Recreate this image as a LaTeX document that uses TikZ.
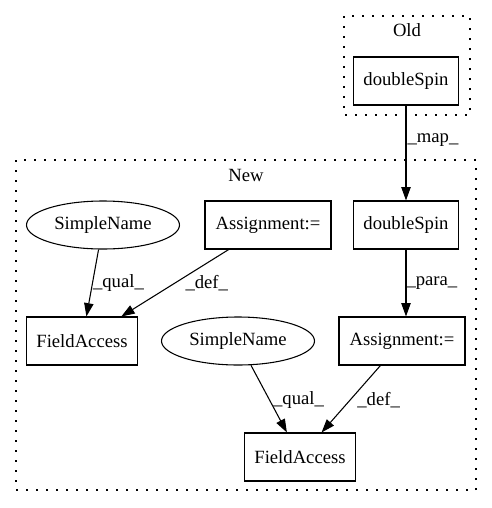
\documentclass[tikz,border=0pt]{standalone}
\usepackage{fontspec}
\setmainfont{Liberation Serif}
\usetikzlibrary{shapes.geometric,arrows.meta}
\begin{document}
\begin{tikzpicture}[x=0.75pt,y=-0.75pt,
  txt/.style={font=\fontsize{14}{16}\selectfont},
  box/.style={txt,draw,rectangle,line width=0.8pt,minimum height=36pt,inner sep=0pt},
  oval/.style={txt,draw,ellipse,line width=0.8pt,minimum width=114.75pt,minimum height=36pt,inner sep=0pt},
  arr/.style={-{Triangle[length=10pt,width=7pt]},line width=0.8pt},
  lbl/.style={txt,anchor=west,inner sep=0pt},
  cluster/.style={line width=0.8pt,dash pattern=on 1.5pt off 6pt}]
\useasboundingbox (0,0) rectangle (492,508);

\draw[cluster] (344,16) rectangle (470,115);
\node[txt] (oldTitle) at (407,30) {Old};
\node[box,minimum width=78.75pt] (spinOld) at (406,81) {doubleSpin};

\draw[cluster] (16,160) rectangle (476,490);
\node[txt] (newTitle) at (246,175) {New};
\node[oval] (nameA) at (103,225) {SimpleName};
\node[box,minimum width=94.5pt] (assignA) at (268,225) {Assignment:=};
\node[box,minimum width=78.75pt] (spinNew) at (406,225) {doubleSpin};
\node[box,minimum width=83.25pt] (fieldA) at (82,341) {FieldAccess};
\node[oval] (nameB) at (238,341) {SimpleName};
\node[box,minimum width=94.5pt] (assignB) at (402,341) {Assignment:=};
\node[box,minimum width=83.25pt] (fieldB) at (300,457) {FieldAccess};

\draw[arr] (spinOld) -- (spinNew) node[lbl,pos=0.36,xshift=0.75pt] {\_map\_};
\draw[arr] (nameA) -- (fieldA) node[lbl,pos=0.5] {\_qual\_};
\draw[arr] (assignA) -- (fieldA) node[lbl,pos=0.5,xshift=7.5pt] {\_def\_};
\draw[arr] (spinNew.south) -- (assignB.north -| spinNew.south) node[lbl,pos=0.5] {\_para\_};
\draw[arr] (nameB) -- (fieldB) node[lbl,pos=0.52,xshift=2.25pt] {\_qual\_};
\draw[arr] (assignB) -- (fieldB) node[lbl,pos=0.52,xshift=5.25pt] {\_def\_};
\end{tikzpicture}
\end{document}
